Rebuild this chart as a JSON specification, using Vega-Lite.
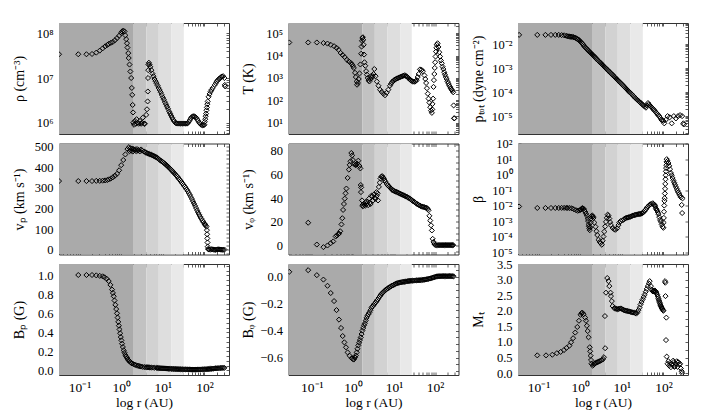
{
"$schema": "https://vega.github.io/schema/vega-lite/v6.json",
"padding": {"left": 12, "top": 17, "right": 5, "bottom": 2},
"background": "white",
"config": {
  "font": "Liberation Serif",
  "view": {"stroke": null},
  "axis": {"domain": true, "domainColor": "#333", "domainWidth": 1, "tickColor": "#333", "tickWidth": 0.8, "tickSize": -3, "grid": false, "zindex": 1, "labelOverlap": false, "labelFlush": false, "labelBound": false, "labelFont": "Liberation Serif", "labelColor": "black", "labelFontSize": 12.5, "titleFont": "Liberation Serif", "titleColor": "black", "titleFontSize": 14, "titleFontWeight": "normal"},
  "axisLeft": {"labelPadding": 9, "minExtent": 33, "maxExtent": 33, "titlePadding": 0},
  "axisRight": {"minExtent": 0, "maxExtent": 0},
  "axisTop": {"minExtent": 0, "maxExtent": 0},
  "axisBottom": {"labelPadding": 8, "labelFontSize": 13.5, "titlePadding": 2, "titleFontSize": 13.5}
},
"datasets": {
  "bandsA": [{"a":0.01,"b":2,"k":1},{"a":2,"b":4,"k":2},{"a":4,"b":8,"k":3},{"a":8,"b":16,"k":4},{"a":16,"b":32,"k":5}],
  "bandsB": [{"a":0.01,"b":1.7,"k":1},{"a":1.7,"b":3.4,"k":2},{"a":3.4,"b":6.9,"k":3},{"a":6.9,"b":14.1,"k":4},{"a":14.1,"b":27,"k":5}],
  "rho": [{"r":0.032,"v":3.4e7},{"r":0.093,"v":3.4e7},{"r":0.146,"v":3.4e7},{"r":0.199,"v":3.45e7},{"r":0.252,"v":3.7e7},{"r":0.305,"v":4.1e7},{"r":0.358,"v":4.6e7},{"r":0.411,"v":5.1e7},{"r":0.464,"v":5.5e7},{"r":0.501,"v":5.8e7},{"r":0.562,"v":6.1e7},{"r":0.631,"v":6.4e7},{"r":0.708,"v":7.0e7},{"r":0.794,"v":7.8e7},{"r":0.891,"v":8.8e7},{"r":1.0,"v":1.02e8},{"r":1.047,"v":1.1e8},{"r":1.122,"v":1.15e8},{"r":1.202,"v":1.1e8},{"r":1.259,"v":9.0e7},{"r":1.318,"v":7.4e7},{"r":1.38,"v":6e7},{"r":1.413,"v":4.8e7},{"r":1.479,"v":3.6e7},{"r":1.514,"v":2.8e7},{"r":1.585,"v":2.0e7},{"r":1.66,"v":1.4e7},{"r":1.738,"v":1.0e7},{"r":1.799,"v":6.0e6},{"r":1.841,"v":4.2e6},{"r":1.884,"v":2.5e6},{"r":1.928,"v":1.7e6},{"r":1.95,"v":1.0e6},{"r":2.042,"v":9.0e5},{"r":2.138,"v":1.1e6},{"r":2.239,"v":9.5e5},{"r":2.344,"v":1.2e6},{"r":2.512,"v":1.0e6},{"r":2.63,"v":9.5e5},{"r":2.818,"v":1.1e6},{"r":3.02,"v":9.5e5},{"r":3.162,"v":1.0e6},{"r":3.311,"v":1.3e6},{"r":3.548,"v":9.5e5},{"r":3.715,"v":9.5e5},{"r":3.981,"v":1.5e6},{"r":4.169,"v":2.0e6},{"r":4.315,"v":3.0e6},{"r":4.365,"v":5e6},{"r":4.416,"v":1.0e7},{"r":4.467,"v":1.5e7},{"r":4.519,"v":2.0e7},{"r":4.624,"v":2.2e7},{"r":4.786,"v":2.0e7},{"r":5.012,"v":1.78e7},{"r":5.3,"v":1.5e7},{"r":5.623,"v":1.26e7},{"r":6.31,"v":9.5e6},{"r":7.079,"v":7.6e6},{"r":7.943,"v":6.0e6},{"r":8.913,"v":4.8e6},{"r":10,"v":3.7e6},{"r":11.22,"v":2.9e6},{"r":12.59,"v":2.3e6},{"r":14.13,"v":1.8e6},{"r":15.85,"v":1.45e6},{"r":17.78,"v":1.17e6},{"r":19.95,"v":1.0e6},{"r":22.39,"v":9.6e5},{"r":25.12,"v":9.6e5},{"r":28.18,"v":9.6e5},{"r":31.62,"v":9.6e5},{"r":35.48,"v":9.6e5},{"r":39.81,"v":9.8e5},{"r":44.67,"v":1.15e6},{"r":50.12,"v":1.35e6},{"r":56.23,"v":1.4e6},{"r":63.1,"v":1.3e6},{"r":70.79,"v":1.1e6},{"r":79.43,"v":9.5e5},{"r":89.13,"v":8.8e5},{"r":100,"v":9.0e5},{"r":102.3,"v":1.05e6},{"r":104.7,"v":1.2e6},{"r":107.2,"v":1.4e6},{"r":109.6,"v":1.6e6},{"r":112.2,"v":1.9e6},{"r":114.8,"v":2.2e6},{"r":117.5,"v":2.6e6},{"r":120.2,"v":3.0e6},{"r":125.9,"v":3.8e6},{"r":133.4,"v":4.4e6},{"r":141.3,"v":5.0e6},{"r":149.6,"v":5.5e6},{"r":158.5,"v":6.0e6},{"r":177.8,"v":7.0e6},{"r":199.5,"v":8.5e6},{"r":223.9,"v":9.5e6},{"r":251.2,"v":1.05e7},{"r":281.8,"v":1.1e7},{"r":302,"v":1.0e7},{"r":309,"v":7e6},{"r":316,"v":6.5e6},{"r":5.957,"v":1.1e7},{"r":6.683,"v":8.5e6},{"r":7.499,"v":6.8e6},{"r":8.414,"v":5.4e6},{"r":9.441,"v":4.2e6},{"r":10.59,"v":3.3e6},{"r":11.89,"v":2.6e6},{"r":13.34,"v":2.05e6},{"r":14.96,"v":1.62e6},{"r":16.79,"v":1.3e6},{"r":18.84,"v":1.08e6},{"r":21.13,"v":9.7e5},{"r":23.71,"v":9.6e5},{"r":26.61,"v":9.6e5},{"r":29.85,"v":9.6e5},{"r":33.5,"v":9.6e5},{"r":37.58,"v":9.6e5},{"r":42.17,"v":1.05e6},{"r":47.32,"v":1.27e6},{"r":53.09,"v":1.39e6},{"r":59.57,"v":1.36e6},{"r":66.83,"v":1.2e6},{"r":74.99,"v":1.0e6},{"r":84.14,"v":9e5},{"r":94.41,"v":8.8e5},{"r":188,"v":7.7e6},{"r":211,"v":9e6},{"r":237,"v":1.0e7},{"r":266,"v":1.08e7}],
  "temp": [{"r":0.0282,"v":3.8e4},{"r":0.0813,"v":3.8e4},{"r":0.132,"v":3.8e4},{"r":0.191,"v":3.6e4},{"r":0.24,"v":3.4e4},{"r":0.288,"v":3.0e4},{"r":0.347,"v":2.6e4},{"r":0.398,"v":2.2e4},{"r":0.447,"v":1.8e4},{"r":0.501,"v":1.3e4},{"r":0.562,"v":1.05e4},{"r":0.631,"v":8.5e3},{"r":0.708,"v":6.5e3},{"r":0.794,"v":5.5e3},{"r":0.891,"v":4.6e3},{"r":0.955,"v":4.0e3},{"r":1.0,"v":3.4e3},{"r":1.047,"v":2.8e3},{"r":1.122,"v":1.7e3},{"r":1.175,"v":1.1e3},{"r":1.23,"v":700},{"r":1.259,"v":500},{"r":1.318,"v":600},{"r":1.38,"v":900},{"r":1.445,"v":1.6e3},{"r":1.514,"v":4e3},{"r":1.585,"v":1.2e4},{"r":1.622,"v":2.5e4},{"r":1.66,"v":4.5e4},{"r":1.698,"v":6e4},{"r":1.738,"v":6.5e4},{"r":1.778,"v":5e4},{"r":1.82,"v":3e4},{"r":1.862,"v":1.1e4},{"r":1.905,"v":5e3},{"r":1.995,"v":3.5e3},{"r":2.089,"v":2e3},{"r":2.188,"v":1.4e3},{"r":2.291,"v":1e3},{"r":2.399,"v":800},{"r":2.512,"v":700},{"r":2.63,"v":900},{"r":2.754,"v":1.2e3},{"r":2.884,"v":1e3},{"r":3.02,"v":1.2e3},{"r":3.162,"v":1.5e3},{"r":3.311,"v":2.5e3},{"r":3.548,"v":1.2e3},{"r":3.802,"v":700},{"r":4.169,"v":450},{"r":4.571,"v":300},{"r":5.012,"v":240},{"r":5.495,"v":200},{"r":6.026,"v":170},{"r":6.607,"v":220},{"r":7.244,"v":300},{"r":7.943,"v":450},{"r":8.913,"v":650},{"r":10,"v":800},{"r":11.22,"v":900},{"r":12.59,"v":1000},{"r":14.13,"v":1100},{"r":15.85,"v":1200},{"r":17.78,"v":1300},{"r":19.95,"v":1200},{"r":22.39,"v":1000},{"r":25.12,"v":800},{"r":28.18,"v":700},{"r":31.62,"v":680},{"r":35.48,"v":800},{"r":39.81,"v":1500},{"r":42.66,"v":2400},{"r":46.77,"v":2300},{"r":50.12,"v":2000},{"r":54.95,"v":1300},{"r":57.54,"v":900},{"r":60.26,"v":600},{"r":63.1,"v":350},{"r":66.07,"v":200},{"r":69.18,"v":120},{"r":72.44,"v":80},{"r":75.86,"v":50},{"r":79.43,"v":35},{"r":83.18,"v":28},{"r":85.11,"v":40},{"r":86.1,"v":70},{"r":89.13,"v":120},{"r":91.2,"v":400},{"r":93.33,"v":800},{"r":95.5,"v":1500},{"r":97.72,"v":2800},{"r":100,"v":5000},{"r":102.3,"v":9000},{"r":104.7,"v":1.5e4},{"r":107.2,"v":2.2e4},{"r":109.6,"v":3e4},{"r":114.8,"v":3.5e4},{"r":120.2,"v":2.4e4},{"r":125.9,"v":1.4e4},{"r":131.8,"v":9000},{"r":138,"v":6000},{"r":151.4,"v":3200},{"r":166,"v":1800},{"r":182,"v":1100},{"r":199.5,"v":700},{"r":218.8,"v":480},{"r":239.9,"v":350},{"r":263,"v":270},{"r":275.4,"v":230},{"r":281.8,"v":60},{"r":288.4,"v":16},{"r":295.1,"v":16},{"r":8.414,"v":550},{"r":9.441,"v":720},{"r":10.59,"v":850},{"r":11.89,"v":950},{"r":13.34,"v":1050},{"r":14.96,"v":1150},{"r":16.79,"v":1250},{"r":18.84,"v":1250},{"r":21.13,"v":1100},{"r":23.71,"v":900},{"r":26.61,"v":750},{"r":29.85,"v":690},{"r":33.5,"v":720},{"r":37.58,"v":1100},{"r":145,"v":4500},{"r":158.5,"v":2500},{"r":173.8,"v":1400},{"r":190.5,"v":900},{"r":208.9,"v":580},{"r":229.1,"v":410},{"r":251.2,"v":300}],
  "ptot": [{"r":0.034,"v":0.024},{"r":0.093,"v":0.024},{"r":0.146,"v":0.024},{"r":0.199,"v":0.024},{"r":0.252,"v":0.024},{"r":0.305,"v":0.024},{"r":0.358,"v":0.0235},{"r":0.411,"v":0.023},{"r":0.464,"v":0.022},{"r":0.501,"v":0.021},{"r":0.562,"v":0.0205},{"r":0.631,"v":0.02},{"r":0.708,"v":0.019},{"r":0.794,"v":0.0175},{"r":0.891,"v":0.0155},{"r":1.0,"v":0.013},{"r":1.122,"v":0.0105},{"r":1.259,"v":0.008},{"r":1.413,"v":0.0065},{"r":1.585,"v":0.00525},{"r":1.778,"v":0.0043},{"r":1.995,"v":0.00355},{"r":2.239,"v":0.0029},{"r":2.512,"v":0.00234},{"r":2.818,"v":0.0019},{"r":3.162,"v":0.00158},{"r":3.548,"v":0.00128},{"r":3.981,"v":0.00105},{"r":4.467,"v":0.00086},{"r":5.012,"v":0.00071},{"r":5.623,"v":0.00058},{"r":6.31,"v":0.00048},{"r":7.079,"v":0.00039},{"r":7.943,"v":0.000316},{"r":8.913,"v":0.00026},{"r":10,"v":0.000214},{"r":11.22,"v":0.000174},{"r":12.59,"v":0.000141},{"r":14.13,"v":0.000115},{"r":15.85,"v":0.000095},{"r":17.78,"v":0.000078},{"r":19.95,"v":0.000063},{"r":22.39,"v":0.000052},{"r":25.12,"v":0.000043},{"r":28.18,"v":0.000036},{"r":31.62,"v":0.00003},{"r":35.48,"v":0.000025},{"r":38.02,"v":0.0000224},{"r":39.81,"v":0.000028},{"r":42.66,"v":0.000035},{"r":44.67,"v":0.000031},{"r":50.12,"v":0.000025},{"r":56.23,"v":0.00002},{"r":63.1,"v":0.000016},{"r":70.79,"v":0.0000125},{"r":79.43,"v":0.00001},{"r":89.13,"v":0.000007},{"r":100,"v":0.0000063},{"r":104.7,"v":0.000005},{"r":114.8,"v":0.000007},{"r":125.9,"v":0.00001},{"r":141.3,"v":0.0000089},{"r":158.5,"v":0.000005},{"r":177.8,"v":0.00001},{"r":199.5,"v":0.000008},{"r":223.9,"v":0.00001},{"r":251.2,"v":0.000011},{"r":281.8,"v":0.00001},{"r":302,"v":0.000005},{"r":309,"v":0.0000045},{"r":0.53,"v":0.0207},{"r":0.596,"v":0.0202},{"r":0.668,"v":0.0195},{"r":0.75,"v":0.0183},{"r":0.841,"v":0.0165},{"r":0.944,"v":0.0143},{"r":1.059,"v":0.0117},{"r":1.189,"v":0.0092},{"r":1.334,"v":0.0072},{"r":1.496,"v":0.0058},{"r":1.679,"v":0.0047},{"r":1.884,"v":0.0039},{"r":2.113,"v":0.0032},{"r":2.371,"v":0.0026},{"r":2.661,"v":0.0021},{"r":2.985,"v":0.00173},{"r":3.35,"v":0.00142},{"r":3.758,"v":0.00116},{"r":4.217,"v":0.00095},{"r":4.732,"v":0.00078},{"r":5.309,"v":0.00064},{"r":5.957,"v":0.00053},{"r":6.683,"v":0.00043},{"r":7.499,"v":0.00035},{"r":8.414,"v":0.000287},{"r":9.441,"v":0.000236},{"r":10.59,"v":0.000193},{"r":11.89,"v":0.000157},{"r":13.34,"v":0.000128},{"r":14.96,"v":0.000104},{"r":16.79,"v":0.000086},{"r":18.84,"v":0.00007},{"r":21.13,"v":0.000057},{"r":23.71,"v":0.000047},{"r":26.61,"v":0.000039},{"r":29.85,"v":0.000033},{"r":33.5,"v":0.0000275},{"r":47.3,"v":0.000028},{"r":53.1,"v":0.0000225},{"r":59.6,"v":0.000018},{"r":66.8,"v":0.000014},{"r":75,"v":0.000011},{"r":84.1,"v":0.0000085},{"r":94.4,"v":0.0000066}],
  "vp": [{"r":0.032,"v":333},{"r":0.093,"v":333},{"r":0.146,"v":333},{"r":0.199,"v":333},{"r":0.252,"v":334},{"r":0.305,"v":334},{"r":0.358,"v":335},{"r":0.411,"v":336},{"r":0.464,"v":338},{"r":0.501,"v":341},{"r":0.562,"v":345},{"r":0.631,"v":351},{"r":0.708,"v":359},{"r":0.794,"v":368},{"r":0.891,"v":385},{"r":1.0,"v":410},{"r":1.122,"v":435},{"r":1.259,"v":462},{"r":1.413,"v":488},{"r":1.531,"v":497},{"r":1.585,"v":478},{"r":1.66,"v":492},{"r":1.738,"v":480},{"r":1.82,"v":490},{"r":1.905,"v":476},{"r":1.995,"v":488},{"r":2.089,"v":482},{"r":2.188,"v":486},{"r":2.291,"v":478},{"r":2.399,"v":488},{"r":2.512,"v":480},{"r":2.63,"v":484},{"r":2.818,"v":477},{"r":3.02,"v":486},{"r":3.162,"v":480},{"r":3.548,"v":476},{"r":3.981,"v":470},{"r":4.467,"v":466},{"r":5.012,"v":462},{"r":5.623,"v":458},{"r":6.31,"v":453},{"r":7.079,"v":448},{"r":7.943,"v":440},{"r":8.913,"v":432},{"r":10,"v":425},{"r":11.22,"v":417},{"r":12.59,"v":408},{"r":14.13,"v":398},{"r":15.85,"v":388},{"r":17.78,"v":377},{"r":19.95,"v":366},{"r":22.39,"v":354},{"r":25.12,"v":341},{"r":28.18,"v":328},{"r":31.62,"v":314},{"r":35.48,"v":300},{"r":39.81,"v":284},{"r":44.67,"v":266},{"r":50.12,"v":246},{"r":56.23,"v":224},{"r":63.1,"v":202},{"r":70.79,"v":180},{"r":79.43,"v":160},{"r":89.13,"v":142},{"r":100,"v":127},{"r":107.2,"v":118},{"r":112.2,"v":112},{"r":114.8,"v":95},{"r":116.1,"v":75},{"r":117.5,"v":55},{"r":118.9,"v":35},{"r":120.2,"v":15},{"r":123,"v":4},{"r":125.9,"v":2},{"r":141.3,"v":1},{"r":158.5,"v":2},{"r":177.8,"v":0},{"r":199.5,"v":1},{"r":223.9,"v":2},{"r":251.2,"v":1},{"r":281.8,"v":0},{"r":302,"v":1},{"r":3.758,"v":473},{"r":4.217,"v":468},{"r":4.732,"v":464},{"r":5.309,"v":460},{"r":5.957,"v":455},{"r":6.683,"v":450},{"r":7.499,"v":444},{"r":8.414,"v":436},{"r":9.441,"v":428},{"r":10.59,"v":421},{"r":11.89,"v":412},{"r":13.34,"v":403},{"r":14.96,"v":393},{"r":16.79,"v":382},{"r":18.84,"v":371},{"r":21.13,"v":360},{"r":23.71,"v":347},{"r":26.61,"v":334},{"r":29.85,"v":321},{"r":33.5,"v":307},{"r":37.58,"v":292},{"r":42.17,"v":275},{"r":47.32,"v":256},{"r":53.09,"v":235},{"r":59.57,"v":213},{"r":66.83,"v":191},{"r":74.99,"v":170},{"r":84.14,"v":151},{"r":94.41,"v":134},{"r":103.5,"v":122},{"r":130,"v":1},{"r":150,"v":2},{"r":168,"v":1},{"r":188,"v":0},{"r":211,"v":2},{"r":237,"v":1},{"r":266,"v":0}],
  "vphi": [{"r":0.0813,"v":19.2},{"r":0.132,"v":0.8},{"r":0.191,"v":-1.4},{"r":0.24,"v":0},{"r":0.288,"v":2},{"r":0.331,"v":3.4},{"r":0.38,"v":7.6},{"r":0.407,"v":8.5},{"r":0.437,"v":9.5},{"r":0.457,"v":10},{"r":0.49,"v":12},{"r":0.525,"v":17.8},{"r":0.55,"v":23},{"r":0.575,"v":30},{"r":0.603,"v":35},{"r":0.631,"v":39.5},{"r":0.661,"v":44},{"r":0.692,"v":48},{"r":0.741,"v":57},{"r":0.794,"v":64},{"r":0.832,"v":68},{"r":0.871,"v":71},{"r":0.912,"v":78},{"r":0.955,"v":76},{"r":1.0,"v":72},{"r":1.072,"v":68.6},{"r":1.148,"v":67.8},{"r":1.202,"v":68},{"r":1.259,"v":69},{"r":1.349,"v":71.5},{"r":1.445,"v":67},{"r":1.514,"v":65},{"r":1.549,"v":51},{"r":1.567,"v":45},{"r":1.585,"v":49},{"r":1.66,"v":38},{"r":1.698,"v":34},{"r":1.738,"v":33},{"r":1.862,"v":35},{"r":1.905,"v":34},{"r":1.995,"v":33.5},{"r":2.042,"v":36.7},{"r":2.138,"v":35},{"r":2.239,"v":37},{"r":2.344,"v":34},{"r":2.455,"v":39.5},{"r":2.57,"v":36},{"r":2.692,"v":35},{"r":2.818,"v":42},{"r":2.951,"v":41.5},{"r":3.09,"v":38},{"r":3.236,"v":43},{"r":3.388,"v":40},{"r":3.548,"v":39.5},{"r":3.715,"v":45},{"r":3.802,"v":42},{"r":3.981,"v":44},{"r":4.074,"v":38},{"r":4.266,"v":49.4},{"r":4.467,"v":53},{"r":4.677,"v":56.5},{"r":4.9,"v":58},{"r":5.129,"v":58.5},{"r":5.37,"v":57.5},{"r":5.623,"v":56.5},{"r":5.888,"v":55},{"r":6.166,"v":53.7},{"r":6.607,"v":52},{"r":7.079,"v":50.8},{"r":7.943,"v":49},{"r":8.913,"v":47},{"r":10,"v":46},{"r":11.22,"v":45.3},{"r":12.59,"v":44.5},{"r":14.13,"v":43.6},{"r":15.85,"v":42.8},{"r":17.78,"v":42},{"r":19.95,"v":41.2},{"r":22.39,"v":40.3},{"r":25.12,"v":39},{"r":28.18,"v":37.8},{"r":31.62,"v":36.5},{"r":35.48,"v":35.3},{"r":39.81,"v":34.2},{"r":44.67,"v":33.2},{"r":50.12,"v":32.6},{"r":56.23,"v":32.2},{"r":63.1,"v":31.6},{"r":66.07,"v":30.8},{"r":69.18,"v":29.7},{"r":72.44,"v":25},{"r":75.86,"v":21},{"r":79.43,"v":17},{"r":83.18,"v":12.7},{"r":87.1,"v":5.6},{"r":91.2,"v":3},{"r":95.5,"v":1.4},{"r":100,"v":0.5},{"r":112.2,"v":0.3},{"r":125.9,"v":0.3},{"r":141.3,"v":0.3},{"r":158.5,"v":0.3},{"r":177.8,"v":0.3},{"r":199.5,"v":0.3},{"r":223.9,"v":0.3},{"r":251.2,"v":0.3},{"r":275.4,"v":0.3},{"r":7.499,"v":49.8},{"r":8.414,"v":48},{"r":9.441,"v":46.5},{"r":10.59,"v":45.6},{"r":11.89,"v":44.9},{"r":13.34,"v":44},{"r":14.96,"v":43.2},{"r":16.79,"v":42.4},{"r":18.84,"v":41.6},{"r":21.13,"v":40.8},{"r":23.71,"v":39.7},{"r":26.61,"v":38.4},{"r":29.85,"v":37.1},{"r":33.5,"v":35.9},{"r":37.58,"v":34.7},{"r":42.17,"v":33.7},{"r":47.32,"v":32.9},{"r":53.09,"v":32.4},{"r":59.57,"v":31.9},{"r":106,"v":0.3},{"r":119,"v":0.3},{"r":133,"v":0.3},{"r":150,"v":0.3},{"r":168,"v":0.3},{"r":188,"v":0.3},{"r":211,"v":0.3},{"r":237,"v":0.3},{"r":263,"v":0.3}],
  "beta": [{"r":0.034,"v":0.0087},{"r":0.093,"v":0.007},{"r":0.146,"v":0.007},{"r":0.199,"v":0.007},{"r":0.252,"v":0.007},{"r":0.305,"v":0.007},{"r":0.358,"v":0.0071},{"r":0.411,"v":0.0071},{"r":0.464,"v":0.0071},{"r":0.501,"v":0.007},{"r":0.562,"v":0.0069},{"r":0.631,"v":0.0066},{"r":0.708,"v":0.0058},{"r":0.794,"v":0.005},{"r":0.871,"v":0.0046},{"r":0.955,"v":0.0048},{"r":1.0,"v":0.0053},{"r":1.047,"v":0.0056},{"r":1.096,"v":0.0065},{"r":1.148,"v":0.0068},{"r":1.202,"v":0.0063},{"r":1.259,"v":0.005},{"r":1.318,"v":0.004},{"r":1.38,"v":0.003},{"r":1.445,"v":0.0022},{"r":1.514,"v":0.00145},{"r":1.549,"v":0.001},{"r":1.585,"v":0.0006},{"r":1.622,"v":0.00045},{"r":1.66,"v":0.00034},{"r":1.698,"v":0.00026},{"r":1.738,"v":0.0004},{"r":1.778,"v":0.0008},{"r":1.82,"v":0.00145},{"r":1.862,"v":0.002},{"r":1.95,"v":0.0023},{"r":2.042,"v":0.002},{"r":2.089,"v":0.0016},{"r":2.188,"v":0.0008},{"r":2.344,"v":0.00043},{"r":2.455,"v":0.00022},{"r":2.57,"v":0.000126},{"r":2.754,"v":0.000063},{"r":2.951,"v":0.000045},{"r":3.09,"v":0.000038},{"r":3.311,"v":0.00003},{"r":3.467,"v":0.000054},{"r":3.631,"v":0.0001},{"r":3.802,"v":0.00021},{"r":3.981,"v":0.00045},{"r":4.169,"v":0.00089},{"r":4.365,"v":0.0016},{"r":4.571,"v":0.0026},{"r":4.786,"v":0.0022},{"r":5.012,"v":0.00145},{"r":5.248,"v":0.00085},{"r":5.495,"v":0.00055},{"r":6.026,"v":0.00036},{"r":6.607,"v":0.00029},{"r":7.079,"v":0.00028},{"r":7.762,"v":0.00034},{"r":8.318,"v":0.00055},{"r":8.71,"v":0.00079},{"r":9.333,"v":0.001},{"r":10.47,"v":0.0011},{"r":11.22,"v":0.0013},{"r":12.59,"v":0.0016},{"r":14.13,"v":0.0017},{"r":15.85,"v":0.0019},{"r":17.78,"v":0.0022},{"r":19.95,"v":0.0024},{"r":22.39,"v":0.0026},{"r":25.12,"v":0.0028},{"r":28.18,"v":0.0029},{"r":31.62,"v":0.0033},{"r":35.48,"v":0.0045},{"r":39.81,"v":0.007},{"r":44.67,"v":0.01},{"r":50.12,"v":0.0126},{"r":54.95,"v":0.014},{"r":60.26,"v":0.0115},{"r":63.1,"v":0.009},{"r":66.07,"v":0.0065},{"r":70.79,"v":0.0048},{"r":75.86,"v":0.0028},{"r":79.43,"v":0.0018},{"r":83.18,"v":0.0012},{"r":87.1,"v":0.00089},{"r":91.2,"v":0.0006},{"r":95.5,"v":0.00043},{"r":100,"v":0.00037},{"r":101.2,"v":0.0008},{"r":102.3,"v":0.0016},{"r":103.5,"v":0.004},{"r":104.7,"v":0.01},{"r":105.9,"v":0.02},{"r":107.2,"v":0.03},{"r":108.4,"v":0.06},{"r":109.6,"v":0.12},{"r":110.9,"v":0.25},{"r":112.2,"v":0.5},{"r":113.5,"v":0.9},{"r":114.8,"v":1.6},{"r":116.1,"v":2.6},{"r":117.5,"v":4},{"r":118.9,"v":6.5},{"r":120.2,"v":9.8},{"r":125.9,"v":7.5},{"r":131.8,"v":5.5},{"r":138,"v":3.6},{"r":144.5,"v":2.2},{"r":151.4,"v":1.26},{"r":158.5,"v":0.9},{"r":166,"v":0.6},{"r":173.8,"v":0.42},{"r":182,"v":0.3},{"r":190.5,"v":0.22},{"r":199.5,"v":0.16},{"r":208.9,"v":0.12},{"r":218.8,"v":0.09},{"r":229.1,"v":0.07},{"r":239.9,"v":0.055},{"r":251.2,"v":0.043},{"r":263,"v":0.034},{"r":275.4,"v":0.011},{"r":281.8,"v":0.0033},{"r":288.4,"v":0.029},{"r":11.89,"v":0.00145},{"r":13.34,"v":0.00165},{"r":14.96,"v":0.0018},{"r":16.79,"v":0.002},{"r":18.84,"v":0.0023},{"r":21.13,"v":0.0025},{"r":23.71,"v":0.0027},{"r":26.61,"v":0.00285},{"r":29.85,"v":0.0031},{"r":33.5,"v":0.0038},{"r":37.58,"v":0.0056},{"r":42.17,"v":0.0085},{"r":47.32,"v":0.0115},{"r":57.5,"v":0.013},{"r":61.7,"v":0.0102},{"r":68.4,"v":0.0055},{"r":73,"v":0.0037}],
  "bp": [{"r":0.093,"v":1.004},{"r":0.146,"v":1.004},{"r":0.199,"v":1.004},{"r":0.252,"v":1.0},{"r":0.305,"v":0.995},{"r":0.358,"v":0.99},{"r":0.398,"v":0.98},{"r":0.447,"v":0.965},{"r":0.501,"v":0.94},{"r":0.55,"v":0.9},{"r":0.603,"v":0.85},{"r":0.631,"v":0.815},{"r":0.661,"v":0.78},{"r":0.692,"v":0.735},{"r":0.724,"v":0.69},{"r":0.759,"v":0.645},{"r":0.794,"v":0.6},{"r":0.822,"v":0.555},{"r":0.851,"v":0.51},{"r":0.881,"v":0.47},{"r":0.912,"v":0.43},{"r":0.944,"v":0.39},{"r":0.977,"v":0.35},{"r":1.012,"v":0.315},{"r":1.047,"v":0.28},{"r":1.096,"v":0.245},{"r":1.148,"v":0.21},{"r":1.202,"v":0.185},{"r":1.259,"v":0.16},{"r":1.318,"v":0.145},{"r":1.38,"v":0.13},{"r":1.445,"v":0.113},{"r":1.514,"v":0.103},{"r":1.585,"v":0.095},{"r":1.66,"v":0.087},{"r":1.738,"v":0.078},{"r":1.82,"v":0.072},{"r":1.995,"v":0.063},{"r":2.138,"v":0.058},{"r":2.291,"v":0.053},{"r":2.512,"v":0.048},{"r":2.661,"v":0.045},{"r":2.818,"v":0.042},{"r":3.02,"v":0.039},{"r":3.311,"v":0.035},{"r":3.981,"v":0.032},{"r":4.467,"v":0.031},{"r":5.012,"v":0.029},{"r":5.888,"v":0.028},{"r":7.079,"v":0.025},{"r":7.943,"v":0.023},{"r":8.913,"v":0.021},{"r":10,"v":0.02},{"r":11.22,"v":0.019},{"r":12.59,"v":0.018},{"r":14.13,"v":0.016},{"r":15.85,"v":0.015},{"r":17.78,"v":0.014},{"r":19.95,"v":0.013},{"r":22.39,"v":0.012},{"r":25.12,"v":0.011},{"r":28.18,"v":0.01},{"r":31.62,"v":0.009},{"r":35.48,"v":0.009},{"r":39.81,"v":0.008},{"r":44.67,"v":0.008},{"r":50.12,"v":0.007},{"r":56.23,"v":0.007},{"r":63.1,"v":0.007},{"r":70.79,"v":0.008},{"r":79.43,"v":0.008},{"r":89.13,"v":0.009},{"r":100,"v":0.01},{"r":112.2,"v":0.011},{"r":125.9,"v":0.013},{"r":141.3,"v":0.015},{"r":158.5,"v":0.017},{"r":177.8,"v":0.019},{"r":199.5,"v":0.021},{"r":223.9,"v":0.022},{"r":251.2,"v":0.024},{"r":281.8,"v":0.025},{"r":302,"v":0.025},{"r":3.65,"v":0.0335},{"r":4.217,"v":0.0315},{"r":4.732,"v":0.03},{"r":5.309,"v":0.0285},{"r":6.4,"v":0.027},{"r":7.5,"v":0.024},{"r":8.414,"v":0.022},{"r":9.441,"v":0.0205},{"r":10.59,"v":0.0195},{"r":11.89,"v":0.0185},{"r":13.34,"v":0.017},{"r":14.96,"v":0.0155},{"r":16.79,"v":0.0145},{"r":18.84,"v":0.0135},{"r":21.13,"v":0.0125},{"r":23.71,"v":0.0115},{"r":26.61,"v":0.0105},{"r":29.85,"v":0.0095},{"r":33.5,"v":0.009},{"r":37.58,"v":0.0085},{"r":42.17,"v":0.008},{"r":47.32,"v":0.0075},{"r":53.09,"v":0.007},{"r":59.57,"v":0.007},{"r":66.83,"v":0.0075},{"r":74.99,"v":0.008},{"r":84.14,"v":0.0085},{"r":94.41,"v":0.0095},{"r":106,"v":0.0105},{"r":119,"v":0.012},{"r":133,"v":0.014},{"r":150,"v":0.016},{"r":168,"v":0.018},{"r":188,"v":0.02},{"r":211,"v":0.0215},{"r":237,"v":0.023},{"r":266,"v":0.0245}],
  "bphi": [{"r":0.0282,"v":0.038},{"r":0.0813,"v":0.05},{"r":0.132,"v":0.013},{"r":0.191,"v":-0.02},{"r":0.24,"v":-0.066},{"r":0.288,"v":-0.12},{"r":0.347,"v":-0.18},{"r":0.398,"v":-0.247},{"r":0.457,"v":-0.318},{"r":0.513,"v":-0.38},{"r":0.562,"v":-0.44},{"r":0.617,"v":-0.487},{"r":0.676,"v":-0.524},{"r":0.741,"v":-0.562},{"r":0.832,"v":-0.587},{"r":0.933,"v":-0.605},{"r":1.0,"v":-0.612},{"r":1.047,"v":-0.615},{"r":1.122,"v":-0.6},{"r":1.175,"v":-0.585},{"r":1.23,"v":-0.562},{"r":1.288,"v":-0.535},{"r":1.349,"v":-0.51},{"r":1.413,"v":-0.49},{"r":1.479,"v":-0.47},{"r":1.549,"v":-0.45},{"r":1.622,"v":-0.425},{"r":1.698,"v":-0.4},{"r":1.778,"v":-0.38},{"r":1.862,"v":-0.36},{"r":1.95,"v":-0.345},{"r":2.042,"v":-0.325},{"r":2.138,"v":-0.305},{"r":2.239,"v":-0.29},{"r":2.371,"v":-0.278},{"r":2.512,"v":-0.265},{"r":2.661,"v":-0.248},{"r":2.818,"v":-0.23},{"r":2.985,"v":-0.22},{"r":3.162,"v":-0.21},{"r":3.548,"v":-0.19},{"r":3.981,"v":-0.17},{"r":4.467,"v":-0.145},{"r":5.012,"v":-0.125},{"r":5.623,"v":-0.11},{"r":6.31,"v":-0.095},{"r":7.079,"v":-0.085},{"r":7.943,"v":-0.075},{"r":8.913,"v":-0.066},{"r":10,"v":-0.058},{"r":11.22,"v":-0.05},{"r":12.59,"v":-0.045},{"r":14.13,"v":-0.041},{"r":15.85,"v":-0.038},{"r":17.78,"v":-0.036},{"r":19.95,"v":-0.034},{"r":22.39,"v":-0.031},{"r":25.12,"v":-0.029},{"r":28.18,"v":-0.028},{"r":31.62,"v":-0.027},{"r":35.48,"v":-0.026},{"r":39.81,"v":-0.025},{"r":44.67,"v":-0.024},{"r":50.12,"v":-0.022},{"r":56.23,"v":-0.02},{"r":63.1,"v":-0.017},{"r":70.79,"v":-0.014},{"r":79.43,"v":-0.01},{"r":89.13,"v":-0.005},{"r":100,"v":0.0},{"r":112.2,"v":0.004},{"r":125.9,"v":0.005},{"r":141.3,"v":0.005},{"r":158.5,"v":0.006},{"r":177.8,"v":0.005},{"r":199.5,"v":0.005},{"r":223.9,"v":0.006},{"r":251.2,"v":0.005},{"r":281.8,"v":0.004},{"r":3.35,"v":-0.2},{"r":3.758,"v":-0.18},{"r":4.217,"v":-0.157},{"r":4.732,"v":-0.135},{"r":5.309,"v":-0.117},{"r":5.957,"v":-0.102},{"r":6.683,"v":-0.09},{"r":7.499,"v":-0.08},{"r":8.414,"v":-0.07},{"r":9.441,"v":-0.062},{"r":10.59,"v":-0.054},{"r":11.89,"v":-0.047},{"r":13.34,"v":-0.043},{"r":14.96,"v":-0.04},{"r":16.79,"v":-0.037},{"r":18.84,"v":-0.035},{"r":21.13,"v":-0.032},{"r":23.71,"v":-0.03},{"r":26.61,"v":-0.0285},{"r":29.85,"v":-0.0275},{"r":33.5,"v":-0.0265},{"r":37.58,"v":-0.0255},{"r":42.17,"v":-0.0245},{"r":47.32,"v":-0.023},{"r":53.09,"v":-0.021},{"r":59.57,"v":-0.0185},{"r":66.83,"v":-0.0155},{"r":74.99,"v":-0.012},{"r":84.14,"v":-0.0075},{"r":94.41,"v":-0.0025},{"r":106,"v":0.002},{"r":119,"v":0.0045},{"r":133,"v":0.005},{"r":150,"v":0.0055},{"r":168,"v":0.0055},{"r":188,"v":0.005},{"r":211,"v":0.0055},{"r":237,"v":0.0055},{"r":266,"v":0.0045}],
  "mt": [{"r":0.093,"v":0.57},{"r":0.151,"v":0.57},{"r":0.214,"v":0.59},{"r":0.275,"v":0.64},{"r":0.339,"v":0.68},{"r":0.407,"v":0.74},{"r":0.468,"v":0.81},{"r":0.55,"v":0.88},{"r":0.603,"v":0.99},{"r":0.676,"v":1.12},{"r":0.759,"v":1.3},{"r":0.851,"v":1.48},{"r":0.933,"v":1.68},{"r":1.023,"v":1.87},{"r":1.072,"v":1.92},{"r":1.122,"v":1.94},{"r":1.202,"v":1.89},{"r":1.318,"v":1.78},{"r":1.38,"v":1.68},{"r":1.445,"v":1.52},{"r":1.514,"v":1.35},{"r":1.585,"v":1.15},{"r":1.698,"v":0.83},{"r":1.738,"v":0.7},{"r":1.778,"v":0.56},{"r":1.82,"v":0.42},{"r":1.862,"v":0.3},{"r":1.995,"v":0.24},{"r":2.089,"v":0.27},{"r":2.188,"v":0.3},{"r":2.291,"v":0.32},{"r":2.399,"v":0.33},{"r":2.57,"v":0.35},{"r":2.692,"v":0.36},{"r":2.884,"v":0.38},{"r":3.09,"v":0.4},{"r":3.311,"v":0.42},{"r":3.548,"v":0.45},{"r":3.715,"v":0.51},{"r":3.93,"v":1.83},{"r":3.981,"v":0.8},{"r":4.169,"v":2.58},{"r":4.467,"v":3.05},{"r":4.786,"v":2.95},{"r":5.012,"v":2.79},{"r":5.37,"v":2.58},{"r":5.495,"v":2.47},{"r":5.754,"v":2.31},{"r":6.026,"v":2.15},{"r":6.607,"v":2.08},{"r":7.079,"v":2.07},{"r":7.943,"v":2.05},{"r":8.913,"v":2.07},{"r":10,"v":2.06},{"r":11.22,"v":2.02},{"r":12.59,"v":2.0},{"r":14.13,"v":1.99},{"r":15.85,"v":1.97},{"r":17.78,"v":1.95},{"r":19.95,"v":1.94},{"r":22.39,"v":1.91},{"r":25.12,"v":2.02},{"r":28.18,"v":2.2},{"r":31.62,"v":2.36},{"r":35.48,"v":2.52},{"r":39.81,"v":2.7},{"r":44.67,"v":2.88},{"r":46.77,"v":2.95},{"r":50.12,"v":2.79},{"r":52.48,"v":2.68},{"r":56.23,"v":2.62},{"r":60.26,"v":2.65},{"r":63.1,"v":2.64},{"r":66.07,"v":2.61},{"r":70.79,"v":2.52},{"r":75.86,"v":2.4},{"r":79.43,"v":2.31},{"r":83.18,"v":2.22},{"r":87.1,"v":2.15},{"r":91.2,"v":2.09},{"r":95.5,"v":2.05},{"r":100,"v":2.0},{"r":109.6,"v":2.95},{"r":111,"v":2.9},{"r":112.2,"v":2.47},{"r":115.5,"v":1.06},{"r":117.5,"v":1.78},{"r":120.2,"v":0.53},{"r":125.9,"v":0.3},{"r":132,"v":0.38},{"r":138,"v":0.24},{"r":145,"v":0.33},{"r":151.4,"v":0.19},{"r":158.5,"v":0.3},{"r":166,"v":0.25},{"r":172,"v":0.4},{"r":177.8,"v":0.35},{"r":184,"v":0.2},{"r":190.5,"v":0.22},{"r":199.5,"v":0.3},{"r":209,"v":0.38},{"r":218.8,"v":0.2},{"r":229.1,"v":0.35},{"r":240,"v":0.28},{"r":251.2,"v":0.3},{"r":263,"v":0.15},{"r":275.4,"v":0.06},{"r":281.8,"v":0.0},{"r":7.499,"v":2.06},{"r":8.414,"v":2.06},{"r":9.441,"v":2.075},{"r":10.59,"v":2.04},{"r":11.89,"v":2.01},{"r":13.34,"v":1.995},{"r":14.96,"v":1.98},{"r":16.79,"v":1.96},{"r":18.84,"v":1.945},{"r":21.13,"v":1.925},{"r":23.71,"v":1.95},{"r":26.61,"v":2.1},{"r":29.85,"v":2.28},{"r":33.5,"v":2.44},{"r":37.58,"v":2.61},{"r":42.17,"v":2.79},{"r":54,"v":2.64},{"r":58,"v":2.63},{"r":61.7,"v":2.65},{"r":68.4,"v":2.57},{"r":73,"v":2.46},{"r":77.6,"v":2.35},{"r":81.3,"v":2.26},{"r":85.1,"v":2.18},{"r":89.1,"v":2.12},{"r":93.3,"v":2.07},{"r":97.7,"v":2.02}]
},
"columns": 3,
"align": "all",
"bounds": "flush",
"spacing": {"row": 9.5, "column": 59.5},
"concat": [
 {"width":170,"height":111,"resolve":{"axis":{"x":"independent","y":"independent"}},"layer":[
  {"data":{"name":"bandsA"},"mark":{"type":"rect","clip":true},"encoding":{"x":{"field":"a","type":"quantitative","scale":{"type":"log","domain":[0.032,390],"nice":false},"axis":null},"x2":{"field":"b"},"color":{"field":"k","type":"ordinal","scale":{"domain":[1,2,3,4,5],"range":["#aaaaaa","#c2c2c2","#d2d2d2","#dedede","#e9e9e9"]},"legend":null}}},
  {"data":{"name":"rho"},"mark":{"type":"point","opacity":0},"encoding":{"x":{"field":"r","type":"quantitative","scale":{"type":"log","domain":[0.032,390],"nice":false},"axis":{"orient":"top","labels":false,"title":null,"values":[0.04,0.05,0.06,0.07,0.08,0.09,0.1,0.2,0.3,0.4,0.5,0.6,0.7,0.8,0.9,1,2,3,4,5,6,7,8,9,10,20,30,40,50,60,70,80,90,100,200,300]}},"y":{"field":"v","type":"quantitative","scale":{"type":"log","domain":[560000,170000000],"nice":false},"axis":{"orient":"right","labels":false,"title":null,"values":[600000,700000,800000,900000,1000000,2000000,3000000,4000000,5000000,6000000,7000000,8000000,9000000,10000000,20000000,30000000,40000000,50000000,60000000,70000000,80000000,90000000,100000000]}}}},
  {"data":{"name":"rho"},"mark":{"type":"point","shape":"diamond","filled":false,"stroke":"black","strokeWidth":1,"size":26,"opacity":1,"clip":true},"encoding":{"x":{"field":"r","type":"quantitative","scale":{"type":"log","domain":[0.032,390],"nice":false},"axis":{"orient":"bottom","labels":false,"title":null,"values":[0.04,0.05,0.06,0.07,0.08,0.09,0.1,0.2,0.3,0.4,0.5,0.6,0.7,0.8,0.9,1,2,3,4,5,6,7,8,9,10,20,30,40,50,60,70,80,90,100,200,300]}},"y":{"field":"v","type":"quantitative","scale":{"type":"log","domain":[560000,170000000],"nice":false},"axis":{"orient":"left","title":"ρ (cm⁻³)","values":[600000,700000,800000,900000,1000000,2000000,3000000,4000000,5000000,6000000,7000000,8000000,9000000,10000000,20000000,30000000,40000000,50000000,60000000,70000000,80000000,90000000,100000000],"labelExpr":"datum.value==1000000?'10⁶':datum.value==10000000?'10⁷':datum.value==100000000?'10⁸':''"}}}}
 ]},
 {"width":170,"height":111,"resolve":{"axis":{"x":"independent","y":"independent"}},"layer":[
  {"data":{"name":"bandsB"},"mark":{"type":"rect","clip":true},"encoding":{"x":{"field":"a","type":"quantitative","scale":{"type":"log","domain":[0.027,370],"nice":false},"axis":null},"x2":{"field":"b"},"color":{"field":"k","type":"ordinal","scale":{"domain":[1,2,3,4,5],"range":["#aaaaaa","#c2c2c2","#d2d2d2","#dedede","#e9e9e9"]},"legend":null}}},
  {"data":{"name":"temp"},"mark":{"type":"point","opacity":0},"encoding":{"x":{"field":"r","type":"quantitative","scale":{"type":"log","domain":[0.027,370],"nice":false},"axis":{"orient":"top","labels":false,"title":null,"values":[0.03,0.04,0.05,0.06,0.07,0.08,0.09,0.1,0.2,0.3,0.4,0.5,0.6,0.7,0.8,0.9,1,2,3,4,5,6,7,8,9,10,20,30,40,50,60,70,80,90,100,200,300]}},"y":{"field":"v","type":"quantitative","scale":{"type":"log","domain":[3.2,280000],"nice":false},"axis":{"orient":"right","labels":false,"title":null,"values":[4,5,6,7,8,9,10,20,30,40,50,60,70,80,90,100,200,300,400,500,600,700,800,900,1000,2000,3000,4000,5000,6000,7000,8000,9000,10000,20000,30000,40000,50000,60000,70000,80000,90000,100000,200000]}}}},
  {"data":{"name":"temp"},"mark":{"type":"point","shape":"diamond","filled":false,"stroke":"black","strokeWidth":1,"size":26,"opacity":1,"clip":true},"encoding":{"x":{"field":"r","type":"quantitative","scale":{"type":"log","domain":[0.027,370],"nice":false},"axis":{"orient":"bottom","labels":false,"title":null,"values":[0.03,0.04,0.05,0.06,0.07,0.08,0.09,0.1,0.2,0.3,0.4,0.5,0.6,0.7,0.8,0.9,1,2,3,4,5,6,7,8,9,10,20,30,40,50,60,70,80,90,100,200,300]}},"y":{"field":"v","type":"quantitative","scale":{"type":"log","domain":[3.2,280000],"nice":false},"axis":{"orient":"left","title":"T (K)","values":[4,5,6,7,8,9,10,20,30,40,50,60,70,80,90,100,200,300,400,500,600,700,800,900,1000,2000,3000,4000,5000,6000,7000,8000,9000,10000,20000,30000,40000,50000,60000,70000,80000,90000,100000,200000],"labelExpr":"datum.value==10?'10¹':datum.value==100?'10²':datum.value==1000?'10³':datum.value==10000?'10⁴':datum.value==100000?'10⁵':''"}}}}
 ]},
 {"width":170,"height":111,"resolve":{"axis":{"x":"independent","y":"independent"}},"layer":[
  {"data":{"name":"bandsA"},"mark":{"type":"rect","clip":true},"encoding":{"x":{"field":"a","type":"quantitative","scale":{"type":"log","domain":[0.032,390],"nice":false},"axis":null},"x2":{"field":"b"},"color":{"field":"k","type":"ordinal","scale":{"domain":[1,2,3,4,5],"range":["#aaaaaa","#c2c2c2","#d2d2d2","#dedede","#e9e9e9"]},"legend":null}}},
  {"data":{"name":"ptot"},"mark":{"type":"point","opacity":0},"encoding":{"x":{"field":"r","type":"quantitative","scale":{"type":"log","domain":[0.032,390],"nice":false},"axis":{"orient":"top","labels":false,"title":null,"values":[0.04,0.05,0.06,0.07,0.08,0.09,0.1,0.2,0.3,0.4,0.5,0.6,0.7,0.8,0.9,1,2,3,4,5,6,7,8,9,10,20,30,40,50,60,70,80,90,100,200,300]}},"y":{"field":"v","type":"quantitative","scale":{"type":"log","domain":[0.0000018,0.075],"nice":false},"axis":{"orient":"right","labels":false,"title":null,"values":[0.000002,0.000003,0.000004,0.000005,0.000006,0.000007,0.000008,0.000009,0.00001,0.00002,0.00003,0.00004,0.00005,0.00006,0.00007,0.00008,0.00009,0.0001,0.0002,0.0003,0.0004,0.0005,0.0006,0.0007,0.0008,0.0009,0.001,0.002,0.003,0.004,0.005,0.006,0.007,0.008,0.009,0.01,0.02,0.03,0.04,0.05,0.06,0.07]}}}},
  {"data":{"name":"ptot"},"mark":{"type":"point","shape":"diamond","filled":false,"stroke":"black","strokeWidth":1,"size":26,"opacity":1,"clip":true},"encoding":{"x":{"field":"r","type":"quantitative","scale":{"type":"log","domain":[0.032,390],"nice":false},"axis":{"orient":"bottom","labels":false,"title":null,"values":[0.04,0.05,0.06,0.07,0.08,0.09,0.1,0.2,0.3,0.4,0.5,0.6,0.7,0.8,0.9,1,2,3,4,5,6,7,8,9,10,20,30,40,50,60,70,80,90,100,200,300]}},"y":{"field":"v","type":"quantitative","scale":{"type":"log","domain":[0.0000018,0.075],"nice":false},"axis":{"orient":"left","title":"pₜₒₜ (dyne cm⁻²)","values":[0.000002,0.000003,0.000004,0.000005,0.000006,0.000007,0.000008,0.000009,0.00001,0.00002,0.00003,0.00004,0.00005,0.00006,0.00007,0.00008,0.00009,0.0001,0.0002,0.0003,0.0004,0.0005,0.0006,0.0007,0.0008,0.0009,0.001,0.002,0.003,0.004,0.005,0.006,0.007,0.008,0.009,0.01,0.02,0.03,0.04,0.05,0.06,0.07],"labelExpr":"datum.value==0.00001?'10⁻⁵':datum.value==0.0001?'10⁻⁴':datum.value==0.001?'10⁻³':datum.value==0.01?'10⁻²':''"}}}}
 ]},
 {"width":170,"height":111,"resolve":{"axis":{"x":"independent","y":"independent"}},"layer":[
  {"data":{"name":"bandsA"},"mark":{"type":"rect","clip":true},"encoding":{"x":{"field":"a","type":"quantitative","scale":{"type":"log","domain":[0.032,390],"nice":false},"axis":null},"x2":{"field":"b"},"color":{"field":"k","type":"ordinal","scale":{"domain":[1,2,3,4,5],"range":["#aaaaaa","#c2c2c2","#d2d2d2","#dedede","#e9e9e9"]},"legend":null}}},
  {"data":{"name":"vp"},"mark":{"type":"point","opacity":0},"encoding":{"x":{"field":"r","type":"quantitative","scale":{"type":"log","domain":[0.032,390],"nice":false},"axis":{"orient":"top","labels":false,"title":null,"values":[0.04,0.05,0.06,0.07,0.08,0.09,0.1,0.2,0.3,0.4,0.5,0.6,0.7,0.8,0.9,1,2,3,4,5,6,7,8,9,10,20,30,40,50,60,70,80,90,100,200,300]}},"y":{"field":"v","type":"quantitative","scale":{"domain":[-23,515],"nice":false,"zero":false},"axis":{"orient":"right","labels":false,"title":null,"values":[-20,0,20,40,60,80,100,120,140,160,180,200,220,240,260,280,300,320,340,360,380,400,420,440,460,480,500]}}}},
  {"data":{"name":"vp"},"mark":{"type":"point","shape":"diamond","filled":false,"stroke":"black","strokeWidth":1,"size":26,"opacity":1,"clip":true},"encoding":{"x":{"field":"r","type":"quantitative","scale":{"type":"log","domain":[0.032,390],"nice":false},"axis":{"orient":"bottom","labels":false,"title":null,"values":[0.04,0.05,0.06,0.07,0.08,0.09,0.1,0.2,0.3,0.4,0.5,0.6,0.7,0.8,0.9,1,2,3,4,5,6,7,8,9,10,20,30,40,50,60,70,80,90,100,200,300]}},"y":{"field":"v","type":"quantitative","scale":{"domain":[-23,515],"nice":false,"zero":false},"axis":{"orient":"left","title":"vₚ (km s⁻¹)","values":[-20,0,20,40,60,80,100,120,140,160,180,200,220,240,260,280,300,320,340,360,380,400,420,440,460,480,500],"labelExpr":"datum.value%100==0?datum.label:''"}}}}
 ]},
 {"width":170,"height":111,"resolve":{"axis":{"x":"independent","y":"independent"}},"layer":[
  {"data":{"name":"bandsB"},"mark":{"type":"rect","clip":true},"encoding":{"x":{"field":"a","type":"quantitative","scale":{"type":"log","domain":[0.027,370],"nice":false},"axis":null},"x2":{"field":"b"},"color":{"field":"k","type":"ordinal","scale":{"domain":[1,2,3,4,5],"range":["#aaaaaa","#c2c2c2","#d2d2d2","#dedede","#e9e9e9"]},"legend":null}}},
  {"data":{"name":"vphi"},"mark":{"type":"point","opacity":0},"encoding":{"x":{"field":"r","type":"quantitative","scale":{"type":"log","domain":[0.027,370],"nice":false},"axis":{"orient":"top","labels":false,"title":null,"values":[0.03,0.04,0.05,0.06,0.07,0.08,0.09,0.1,0.2,0.3,0.4,0.5,0.6,0.7,0.8,0.9,1,2,3,4,5,6,7,8,9,10,20,30,40,50,60,70,80,90,100,200,300]}},"y":{"field":"v","type":"quantitative","scale":{"domain":[-7.6,86],"nice":false,"zero":false},"axis":{"orient":"right","labels":false,"title":null,"values":[-5,0,5,10,15,20,25,30,35,40,45,50,55,60,65,70,75,80,85]}}}},
  {"data":{"name":"vphi"},"mark":{"type":"point","shape":"diamond","filled":false,"stroke":"black","strokeWidth":1,"size":26,"opacity":1,"clip":true},"encoding":{"x":{"field":"r","type":"quantitative","scale":{"type":"log","domain":[0.027,370],"nice":false},"axis":{"orient":"bottom","labels":false,"title":null,"values":[0.03,0.04,0.05,0.06,0.07,0.08,0.09,0.1,0.2,0.3,0.4,0.5,0.6,0.7,0.8,0.9,1,2,3,4,5,6,7,8,9,10,20,30,40,50,60,70,80,90,100,200,300]}},"y":{"field":"v","type":"quantitative","scale":{"domain":[-7.6,86],"nice":false,"zero":false},"axis":{"orient":"left","title":"vᵩ (km s⁻¹)","values":[-5,0,5,10,15,20,25,30,35,40,45,50,55,60,65,70,75,80,85],"labelExpr":"datum.value%20==0?datum.label:''"}}}}
 ]},
 {"width":170,"height":111,"resolve":{"axis":{"x":"independent","y":"independent"}},"layer":[
  {"data":{"name":"bandsA"},"mark":{"type":"rect","clip":true},"encoding":{"x":{"field":"a","type":"quantitative","scale":{"type":"log","domain":[0.032,390],"nice":false},"axis":null},"x2":{"field":"b"},"color":{"field":"k","type":"ordinal","scale":{"domain":[1,2,3,4,5],"range":["#aaaaaa","#c2c2c2","#d2d2d2","#dedede","#e9e9e9"]},"legend":null}}},
  {"data":{"name":"beta"},"mark":{"type":"point","opacity":0},"encoding":{"x":{"field":"r","type":"quantitative","scale":{"type":"log","domain":[0.032,390],"nice":false},"axis":{"orient":"top","labels":false,"title":null,"values":[0.04,0.05,0.06,0.07,0.08,0.09,0.1,0.2,0.3,0.4,0.5,0.6,0.7,0.8,0.9,1,2,3,4,5,6,7,8,9,10,20,30,40,50,60,70,80,90,100,200,300]}},"y":{"field":"v","type":"quantitative","scale":{"type":"log","domain":[0.000007,100],"nice":false},"axis":{"orient":"right","labels":false,"title":null,"values":[0.00001,0.0001,0.001,0.01,0.1,1,10,100]}}}},
  {"data":{"name":"beta"},"mark":{"type":"point","shape":"diamond","filled":false,"stroke":"black","strokeWidth":1,"size":26,"opacity":1,"clip":true},"encoding":{"x":{"field":"r","type":"quantitative","scale":{"type":"log","domain":[0.032,390],"nice":false},"axis":{"orient":"bottom","labels":false,"title":null,"values":[0.04,0.05,0.06,0.07,0.08,0.09,0.1,0.2,0.3,0.4,0.5,0.6,0.7,0.8,0.9,1,2,3,4,5,6,7,8,9,10,20,30,40,50,60,70,80,90,100,200,300]}},"y":{"field":"v","type":"quantitative","scale":{"type":"log","domain":[0.000007,100],"nice":false},"axis":{"orient":"left","title":"β","values":[0.00001,0.0001,0.001,0.01,0.1,1,10,100],"labelExpr":"datum.value==0.00001?'10⁻⁵':datum.value==0.0001?'10⁻⁴':datum.value==0.001?'10⁻³':datum.value==0.01?'10⁻²':datum.value==0.1?'10⁻¹':datum.value==1?'10⁰':datum.value==10?'10¹':'10²'"}}}}
 ]},
 {"width":170,"height":111,"resolve":{"axis":{"x":"independent","y":"independent"}},"layer":[
  {"data":{"name":"bandsA"},"mark":{"type":"rect","clip":true},"encoding":{"x":{"field":"a","type":"quantitative","scale":{"type":"log","domain":[0.032,390],"nice":false},"axis":null},"x2":{"field":"b"},"color":{"field":"k","type":"ordinal","scale":{"domain":[1,2,3,4,5],"range":["#aaaaaa","#c2c2c2","#d2d2d2","#dedede","#e9e9e9"]},"legend":null}}},
  {"data":{"name":"bp"},"mark":{"type":"point","opacity":0},"encoding":{"x":{"field":"r","type":"quantitative","scale":{"type":"log","domain":[0.032,390],"nice":false},"axis":{"orient":"top","labels":false,"title":null,"values":[0.04,0.05,0.06,0.07,0.08,0.09,0.1,0.2,0.3,0.4,0.5,0.6,0.7,0.8,0.9,1,2,3,4,5,6,7,8,9,10,20,30,40,50,60,70,80,90,100,200,300]}},"y":{"field":"v","type":"quantitative","scale":{"domain":[-0.05,1.12],"nice":false,"zero":false},"axis":{"orient":"right","labels":false,"title":null,"values":[0,0.05,0.1,0.15,0.2,0.25,0.3,0.35,0.4,0.45,0.5,0.55,0.6,0.65,0.7,0.75,0.8,0.85,0.9,0.95,1,1.05,1.1]}}}},
  {"data":{"name":"bp"},"mark":{"type":"point","shape":"diamond","filled":false,"stroke":"black","strokeWidth":1,"size":26,"opacity":1,"clip":true},"encoding":{"x":{"field":"r","type":"quantitative","scale":{"type":"log","domain":[0.032,390],"nice":false},"axis":{"orient":"bottom","title":"log r (AU)","values":[0.04,0.05,0.06,0.07,0.08,0.09,0.1,0.2,0.3,0.4,0.5,0.6,0.7,0.8,0.9,1,2,3,4,5,6,7,8,9,10,20,30,40,50,60,70,80,90,100,200,300],"labelExpr":"datum.value==0.1?'10⁻¹':datum.value==1?'10⁰':datum.value==10?'10¹':datum.value==100?'10²':''"}},"y":{"field":"v","type":"quantitative","scale":{"domain":[-0.05,1.12],"nice":false,"zero":false},"axis":{"orient":"left","title":"Bₚ (G)","values":[0,0.05,0.1,0.15,0.2,0.25,0.3,0.35,0.4,0.45,0.5,0.55,0.6,0.65,0.7,0.75,0.8,0.85,0.9,0.95,1,1.05,1.1],"labelExpr":"abs(datum.value*5-round(datum.value*5))<0.001?format(datum.value,'.1f'):''"}}}}
 ]},
 {"width":170,"height":111,"resolve":{"axis":{"x":"independent","y":"independent"}},"layer":[
  {"data":{"name":"bandsB"},"mark":{"type":"rect","clip":true},"encoding":{"x":{"field":"a","type":"quantitative","scale":{"type":"log","domain":[0.027,370],"nice":false},"axis":null},"x2":{"field":"b"},"color":{"field":"k","type":"ordinal","scale":{"domain":[1,2,3,4,5],"range":["#aaaaaa","#c2c2c2","#d2d2d2","#dedede","#e9e9e9"]},"legend":null}}},
  {"data":{"name":"bphi"},"mark":{"type":"point","opacity":0},"encoding":{"x":{"field":"r","type":"quantitative","scale":{"type":"log","domain":[0.027,370],"nice":false},"axis":{"orient":"top","labels":false,"title":null,"values":[0.03,0.04,0.05,0.06,0.07,0.08,0.09,0.1,0.2,0.3,0.4,0.5,0.6,0.7,0.8,0.9,1,2,3,4,5,6,7,8,9,10,20,30,40,50,60,70,80,90,100,200,300]}},"y":{"field":"v","type":"quantitative","scale":{"domain":[-0.73,0.096],"nice":false,"zero":false},"axis":{"orient":"right","labels":false,"title":null,"values":[-0.7,-0.65,-0.6,-0.55,-0.5,-0.45,-0.4,-0.35,-0.3,-0.25,-0.2,-0.15,-0.1,-0.05,0,0.05]}}}},
  {"data":{"name":"bphi"},"mark":{"type":"point","shape":"diamond","filled":false,"stroke":"black","strokeWidth":1,"size":26,"opacity":1,"clip":true},"encoding":{"x":{"field":"r","type":"quantitative","scale":{"type":"log","domain":[0.027,370],"nice":false},"axis":{"orient":"bottom","title":"log r (AU)","values":[0.03,0.04,0.05,0.06,0.07,0.08,0.09,0.1,0.2,0.3,0.4,0.5,0.6,0.7,0.8,0.9,1,2,3,4,5,6,7,8,9,10,20,30,40,50,60,70,80,90,100,200,300],"labelExpr":"datum.value==0.1?'10⁻¹':datum.value==1?'10⁰':datum.value==10?'10¹':datum.value==100?'10²':''"}},"y":{"field":"v","type":"quantitative","scale":{"domain":[-0.73,0.096],"nice":false,"zero":false},"axis":{"orient":"left","title":"Bᵩ (G)","values":[-0.7,-0.65,-0.6,-0.55,-0.5,-0.45,-0.4,-0.35,-0.3,-0.25,-0.2,-0.15,-0.1,-0.05,0,0.05],"labelExpr":"abs(datum.value*5-round(datum.value*5))<0.001?format(datum.value,'.1f'):''"}}}}
 ]},
 {"width":170,"height":111,"resolve":{"axis":{"x":"independent","y":"independent"}},"layer":[
  {"data":{"name":"bandsA"},"mark":{"type":"rect","clip":true},"encoding":{"x":{"field":"a","type":"quantitative","scale":{"type":"log","domain":[0.032,390],"nice":false},"axis":null},"x2":{"field":"b"},"color":{"field":"k","type":"ordinal","scale":{"domain":[1,2,3,4,5],"range":["#aaaaaa","#c2c2c2","#d2d2d2","#dedede","#e9e9e9"]},"legend":null}}},
  {"data":{"name":"mt"},"mark":{"type":"point","opacity":0},"encoding":{"x":{"field":"r","type":"quantitative","scale":{"type":"log","domain":[0.032,390],"nice":false},"axis":{"orient":"top","labels":false,"title":null,"values":[0.04,0.05,0.06,0.07,0.08,0.09,0.1,0.2,0.3,0.4,0.5,0.6,0.7,0.8,0.9,1,2,3,4,5,6,7,8,9,10,20,30,40,50,60,70,80,90,100,200,300]}},"y":{"field":"v","type":"quantitative","scale":{"domain":[-0.06,3.5],"nice":false,"zero":false},"axis":{"orient":"right","labels":false,"title":null,"values":[0,0.25,0.5,0.75,1,1.25,1.5,1.75,2,2.25,2.5,2.75,3,3.25,3.5]}}}},
  {"data":{"name":"mt"},"mark":{"type":"point","shape":"diamond","filled":false,"stroke":"black","strokeWidth":1,"size":26,"opacity":1,"clip":true},"encoding":{"x":{"field":"r","type":"quantitative","scale":{"type":"log","domain":[0.032,390],"nice":false},"axis":{"orient":"bottom","title":"log r (AU)","values":[0.04,0.05,0.06,0.07,0.08,0.09,0.1,0.2,0.3,0.4,0.5,0.6,0.7,0.8,0.9,1,2,3,4,5,6,7,8,9,10,20,30,40,50,60,70,80,90,100,200,300],"labelExpr":"datum.value==0.1?'10⁻¹':datum.value==1?'10⁰':datum.value==10?'10¹':datum.value==100?'10²':''"}},"y":{"field":"v","type":"quantitative","scale":{"domain":[-0.06,3.5],"nice":false,"zero":false},"axis":{"orient":"left","title":"Mₜ","values":[0,0.25,0.5,0.75,1,1.25,1.5,1.75,2,2.25,2.5,2.75,3,3.25,3.5],"labelExpr":"abs(datum.value*2-round(datum.value*2))<0.001?format(datum.value,'.1f'):''"}}}}
 ]}
]
}
